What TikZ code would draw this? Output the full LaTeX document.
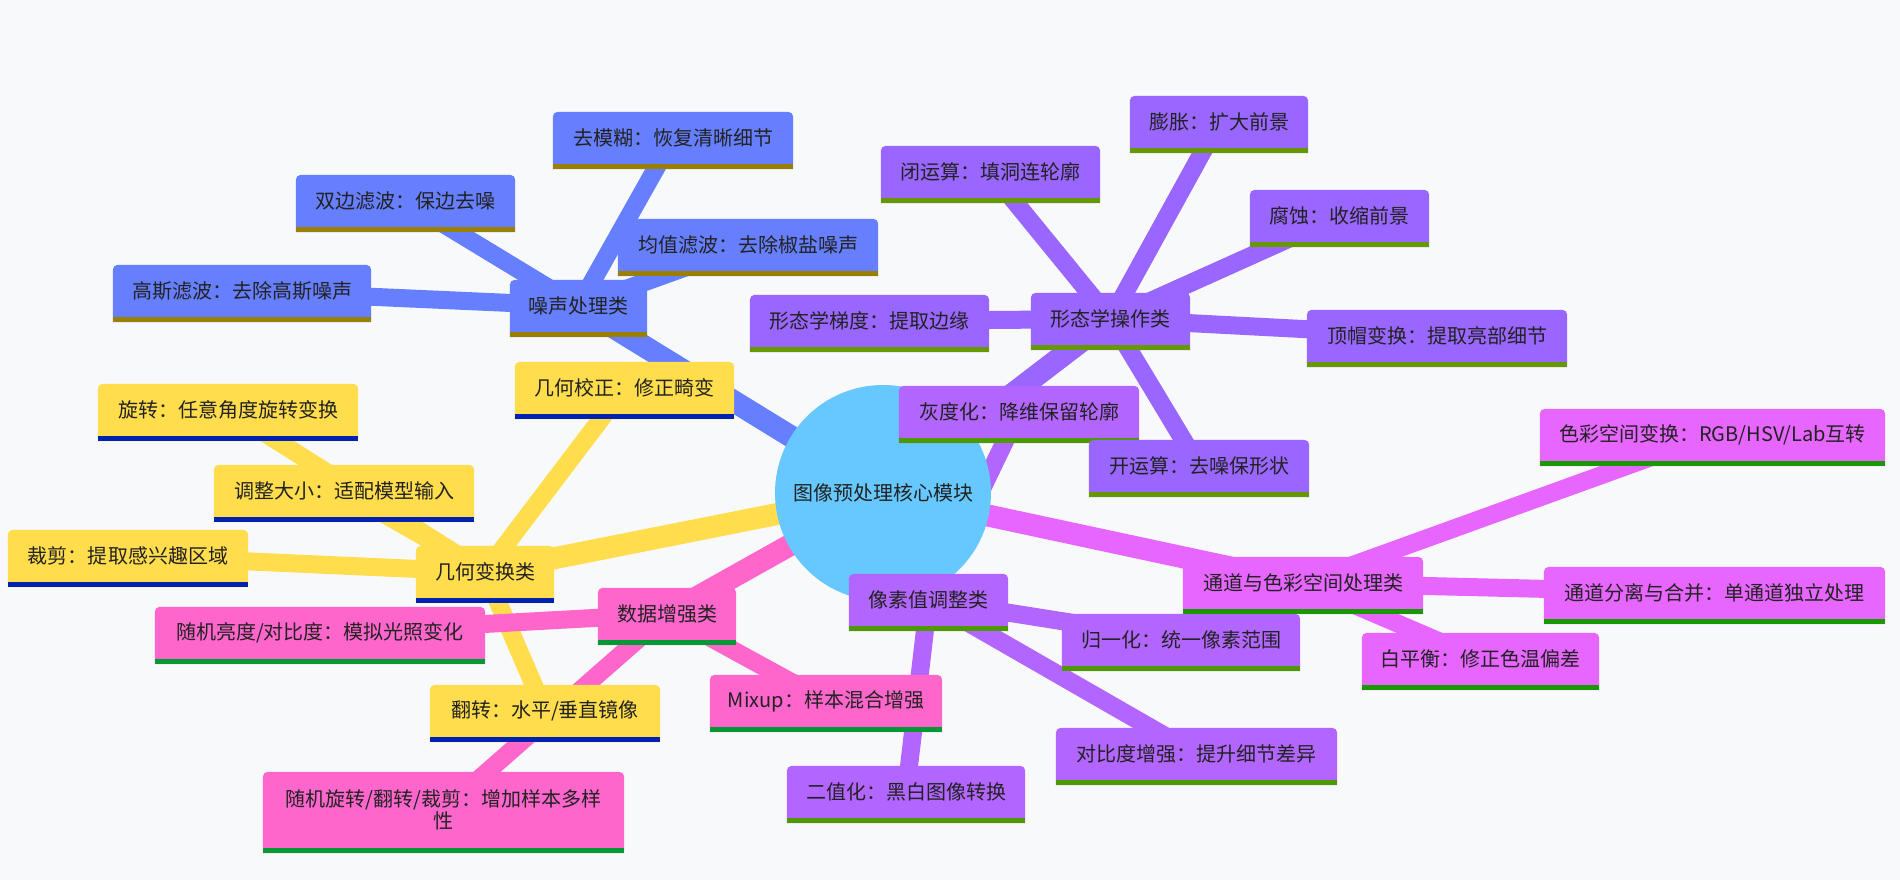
\documentclass[tikz,border=0pt]{standalone}
\usepackage{fontspec}
\setmainfont{Noto Sans CJK SC}
\definecolor{bgc}{HTML}{F8F9FB}
\definecolor{txt}{HTML}{222222}
\definecolor{rootfill}{HTML}{66C8FF}
\definecolor{nfill}{HTML}{667FFF}\definecolor{nbar}{HTML}{998000}
\definecolor{gfill}{HTML}{FFDD4D}\definecolor{gbar}{HTML}{0022B2}
\definecolor{dfill}{HTML}{FF66CC}\definecolor{dbar}{HTML}{009933}
\definecolor{pfill}{HTML}{B266FF}\definecolor{pbar}{HTML}{4D9900}
\definecolor{cfill}{HTML}{E666FF}\definecolor{cbar}{HTML}{199900}
\definecolor{mfill}{HTML}{9966FF}\definecolor{mbar}{HTML}{669900}
\pgfdeclarelayer{bglayer}
\pgfdeclarelayer{edgelayer}
\pgfdeclarelayer{shapelayer}
\pgfsetlayers{bglayer,edgelayer,shapelayer,main}
\tikzset{
  mmtext/.style={inner sep=0pt, minimum height=52bp, text=txt, align=center,
    font=\fontsize{20bp}{22bp}\selectfont},
  ezero/.style={line width=22bp},
  eone/.style={line width=18bp},
}
\newcommand{\mmshape}[3]{%
  \begin{pgfonlayer}{shapelayer}
  \fill[#2] ([yshift=-5bp]#1.south west) [rounded corners=5bp] -- (#1.north west) -- (#1.north east) [sharp corners] -- ([yshift=-5bp]#1.south east) -- cycle;
  \fill[#3] ([yshift=-5bp]#1.south west) rectangle (#1.south east);
  \end{pgfonlayer}}
\newcommand{\mm}[6]{%
  \node[mmtext, minimum width=#4bp] (#1) at (#2,#3) {#6};
  \mmshape{#1}{#5fill}{#5bar}}
\begin{document}
\begin{tikzpicture}[x=1bp,y=-1bp]
\begin{pgfonlayer}{bglayer}
\fill[bgc] (0,0) rectangle (1900,880);
\end{pgfonlayer}
\useasboundingbox (0,0) rectangle (1900,880);
% root
\node[inner sep=0pt, text=txt, font=\fontsize{20bp}{22bp}\selectfont] (root) at (883,493) {图像预处理核心模块};
\begin{pgfonlayer}{shapelayer}
\fill[rootfill] (root.center) circle[radius=108bp];
\end{pgfonlayer}
% noise
\mm{N}{578.5}{306}{137}{n}{噪声处理类}
\mm{Na}{673}{138}{240}{n}{去模糊：恢复清晰细节}
\mm{Nb}{405.5}{201}{219}{n}{双边滤波：保边去噪}
\mm{Nc}{748}{245}{260}{n}{均值滤波：去除椒盐噪声}
\mm{Nd}{242}{291}{258}{n}{高斯滤波：去除高斯噪声}
% geometry
\mm{G}{485}{572}{138}{g}{几何变换类}
\mm{Ga}{624.5}{388}{219}{g}{几何校正：修正畸变}
\mm{Gb}{228}{410}{260}{g}{旋转：任意角度旋转变换}
\mm{Gc}{344}{491}{260}{g}{调整大小：适配模型输入}
\mm{Gd}{128}{556}{240}{g}{裁剪：提取感兴趣区域}
\mm{Ge}{545}{711}{230}{g}{翻转：水平/垂直镜像}
% data augmentation
\mm{D}{667}{614}{138}{d}{数据增强类}
\mm{Da}{320}{633}{330}{d}{随机亮度/对比度：模拟光照变化}
\mm{Db}{826}{701}{232}{d}{Mixup：样本混合增强}
\node[mmtext, minimum width=361bp, minimum height=76bp] (Dc) at (443.5,810) {随机旋转/翻转/裁剪：增加样本多样\\性};
\mmshape{Dc}{dfill}{dbar}
% pixel
\mm{P}{928.5}{600}{159}{p}{像素值调整类}
\mm{Pa}{1019}{412}{240}{p}{灰度化：降维保留轮廓}
\mm{Pb}{1181}{640}{238}{p}{归一化：统一像素范围}
\mm{Pc}{1196.5}{754}{281}{p}{对比度增强：提升细节差异}
\mm{Pd}{906}{792}{238}{p}{二值化：黑白图像转换}
% channel
\mm{C}{1303}{583}{240}{c}{通道与色彩空间处理类}
\mm{Ca}{1712.5}{435}{345}{c}{色彩空间变换：RGB/HSV/Lab互转}
\mm{Cb}{1714.5}{593}{341}{c}{通道分离与合并：单通道独立处理}
\mm{Cc}{1480.5}{659}{237}{c}{白平衡：修正色温偏差}
% morphology
\mm{M}{1110.5}{319}{159}{m}{形态学操作类}
\mm{Ma}{1219}{122}{178}{m}{膨胀：扩大前景}
\mm{Mb}{990.5}{172}{219}{m}{闭运算：填洞连轮廓}
\mm{Mc}{1339.5}{216}{179}{m}{腐蚀：收缩前景}
\mm{Md}{869.5}{321}{239}{m}{形态学梯度：提取边缘}
\mm{Me}{1437}{336}{260}{m}{顶帽变换：提取亮部细节}
\mm{Mf}{1199}{466}{220}{m}{开运算：去噪保形状}
% edges
\begin{pgfonlayer}{edgelayer}
\draw[ezero, nfill] (root.center) -- (N.center);
\foreach \t in {Na,Nb,Nc,Nd} \draw[eone, nfill] (N.center) -- (\t.center);
\draw[ezero, gfill] (root.center) -- (G.center);
\foreach \t in {Ga,Gb,Gc,Gd,Ge} \draw[eone, gfill] (G.center) -- (\t.center);
\draw[ezero, dfill] (root.center) -- (D.center);
\foreach \t in {Da,Db,Dc} \draw[eone, dfill] (D.center) -- (\t.center);
\draw[ezero, pfill] (root.center) -- (P.center);
\foreach \t in {Pa,Pb,Pc,Pd} \draw[eone, pfill] (P.center) -- (\t.center);
\draw[ezero, cfill] (root.center) -- (C.center);
\foreach \t in {Ca,Cb,Cc} \draw[eone, cfill] (C.center) -- (\t.center);
\draw[ezero, mfill] (root.center) -- (M.center);
\foreach \t in {Ma,Mb,Mc,Md,Me,Mf} \draw[eone, mfill] (M.center) -- (\t.center);
\end{pgfonlayer}
\end{tikzpicture}
\end{document}
